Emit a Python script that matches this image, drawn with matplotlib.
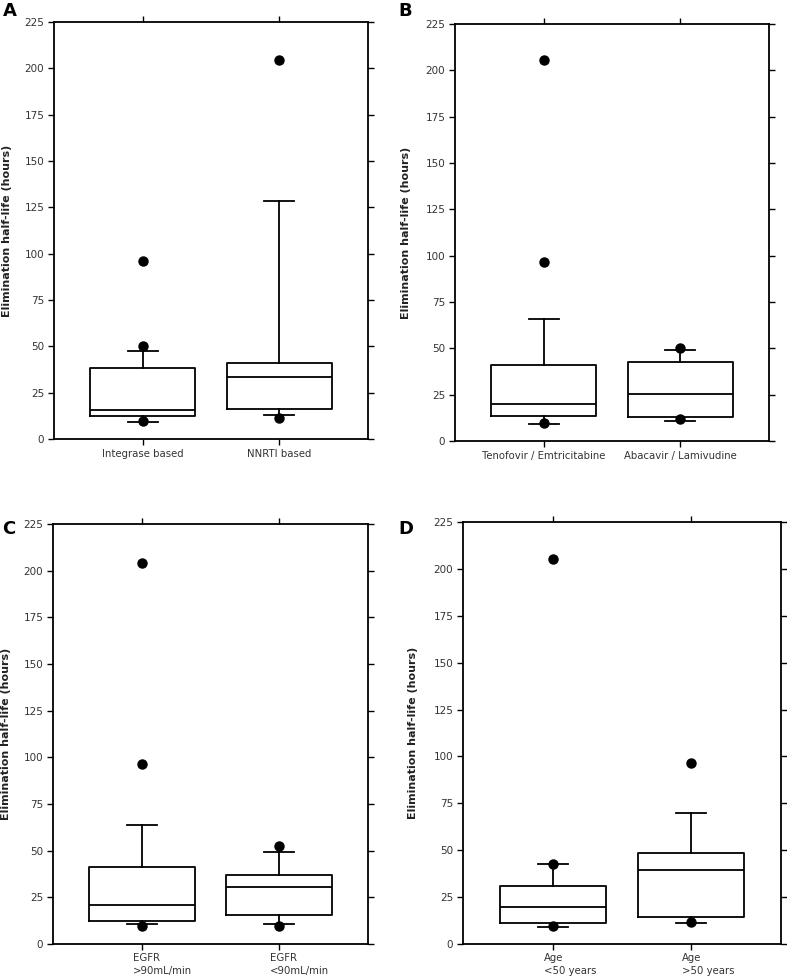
import matplotlib
matplotlib.use("Agg")
import matplotlib.pyplot as plt
import matplotlib.transforms as mtrans

# ---- data (hours) ----
labels_A = ["Integrase based", "NNRTI based"]
med_A = [15.8, 33.2]
q1_A = [12.2, 16.0]
q3_A = [38.1, 41.0]
wlo_A = [9.3, 12.9]
whi_A = [47.6, 128.3]
fl_A = [[96.3, 50.0, 9.5], [204.7, 11.1]]

labels_B = ["Tenofovir / Emtricitabine", "Abacavir / Lamivudine"]
med_B = [20.2, 25.2]
q1_B = [13.7, 13.1]
q3_B = [41.0, 42.7]
wlo_B = [9.4, 10.8]
whi_B = [65.7, 49.0]
fl_B = [[205.4, 96.7, 9.6], [50.0, 11.9]]

labels_C = ["EGFR\n>90mL/min", "EGFR\n<90mL/min"]
med_C = [20.7, 30.7]
q1_C = [12.2, 15.7]
q3_C = [41.5, 37.2]
wlo_C = [10.7, 10.7]
whi_C = [63.8, 49.5]
fl_C = [[204.1, 96.3, 9.6], [52.5, 9.6]]

labels_D = ["Age\n<50 years", "Age\n>50 years"]
med_D = [19.9, 39.3]
q1_D = [11.4, 14.2]
q3_D = [31.1, 48.4]
wlo_D = [9.2, 11.4]
whi_D = [42.7, 69.9]
fl_D = [[205.1, 42.7, 9.5], [96.6, 11.7]]

yticks = [0, 25, 50, 75, 100, 125, 150, 175, 200, 225]
ylabel = "Elimination half-life (hours)"

W, H = 787, 980
fig = plt.figure(figsize=(W / 100, H / 100), dpi=100)

panels = [
    ("A", labels_A, med_A, q1_A, q3_A, wlo_A, whi_A, fl_A, (54, 22, 368, 439), (3, 2), False, 12),
    ("B", labels_B, med_B, q1_B, q3_B, wlo_B, whi_B, fl_B, (455, 24, 769, 441), (398, 2), False, 411),
    ("C", labels_C, med_C, q1_C, q3_C, wlo_C, whi_C, fl_C, (53, 524, 368, 944), (2, 520), True, 11),
    ("D", labels_D, med_D, q1_D, q3_D, wlo_D, whi_D, fl_D, (463, 522, 781, 944), (398, 520), True, 418),
]

tick_color = "#333333"
for (letter, labs, med, q1, q3, wlo, whi, fl, (l, t, r, b), (lx, ly), two_line, ylx) in panels:
    ax = fig.add_axes([l / W, 1 - b / H, (r - l) / W, (b - t) / H])
    stats = []
    for i in range(2):
        stats.append(dict(med=med[i], q1=q1[i], q3=q3[i], whislo=wlo[i],
                          whishi=whi[i], fliers=fl[i], label=labs[i]))
    lw = 1.3
    ax.bxp(stats, positions=[1, 2], widths=0.77, capwidths=0.22,
           boxprops=dict(color="black", linewidth=lw),
           medianprops=dict(color="black", linewidth=lw),
           whiskerprops=dict(color="black", linewidth=lw),
           capprops=dict(color="black", linewidth=lw),
           flierprops=dict(marker="o", markerfacecolor="black",
                           markeredgecolor="black", markersize=6.5),
           manage_ticks=False)
    ax.set_xlim(0.35, 2.65)
    ax.set_ylim(0, 225)
    ax.set_yticks(yticks)
    ax.set_yticklabels([str(v) for v in yticks], fontsize=7.5, color=tick_color)
    ax.set_xticks([1, 2])
    if two_line:
        ax.set_xticklabels(["", ""])
        blend = mtrans.blended_transform_factory(ax.transData, ax.transAxes)
        off = mtrans.ScaledTranslation(-9 / 100, -9 / 100, fig.dpi_scale_trans)
        for pos, lab in zip([1, 2], labs):
            ax.text(pos, 0, lab, transform=blend + off, ha="left", va="top",
                    multialignment="left", fontsize=7.3, color=tick_color,
                    linespacing=1.35)
    else:
        ax.set_xticklabels(labs, fontsize=7.3, color=tick_color)
    ax.tick_params(axis="both", direction="out", length=4, width=1.0,
                   top=True, right=True, pad=3)
    for s in ax.spines.values():
        s.set_linewidth(1.3)
    ax.set_ylabel(ylabel, fontsize=8, fontweight="bold", color="#222222")
    ax.yaxis.set_label_coords((ylx - l) / (r - l), 0.5)
    fig.text(lx / W, 1 - ly / H, letter, fontsize=13, fontweight="bold",
             ha="left", va="top")

fig.savefig("out.png", dpi=100, facecolor="white")
